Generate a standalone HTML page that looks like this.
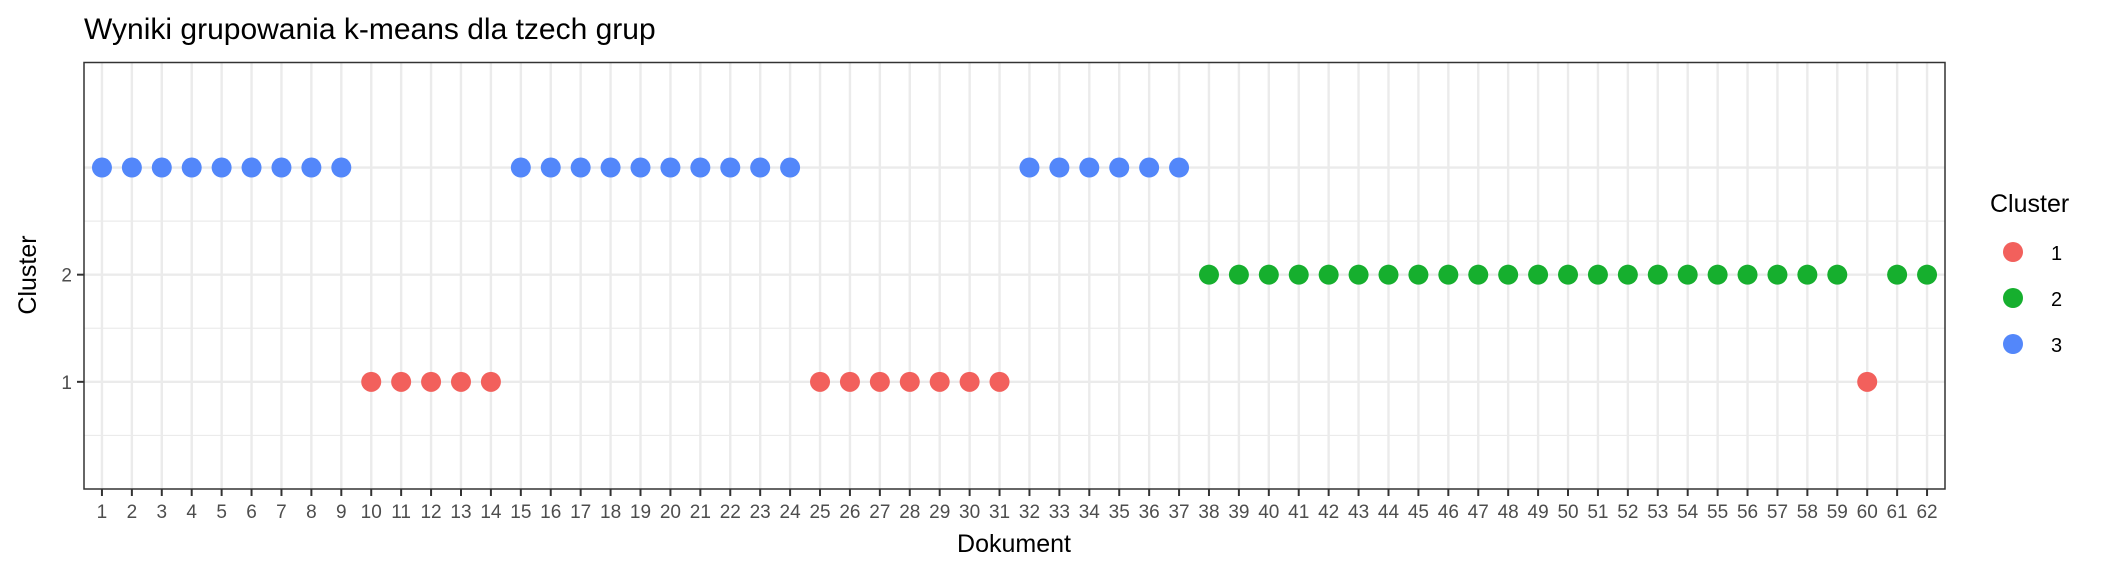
<!DOCTYPE html>
<html><head><meta charset="utf-8"><style>
html,body{margin:0;padding:0;background:#fff;}
svg{display:block;font-family:"Liberation Sans",Arial,sans-serif;}
</style></head><body>
<svg id="chart" width="2112" height="576" viewBox="0 0 2112 576">
<text x="84" y="39" font-size="30" fill="#000">Wyniki grupowania k-means dla tzech grup</text>
<g id="grid"></g>
<g id="points"></g>
<rect x="84" y="62.5" width="1861" height="426.5" fill="none" stroke="#333" stroke-width="1.5"/>
<g id="axes"></g>
<text x="1014" y="552" font-size="25" text-anchor="middle" fill="#000">Dokument</text>
<text transform="translate(36,275) rotate(-90)" font-size="25" text-anchor="middle" fill="#000">Cluster</text>
<g id="legend">
<text x="1990" y="212" font-size="25" fill="#000">Cluster</text>
</g>
</svg>
<script>
const clusters = [3,3,3,3,3,3,3,3,3,1,1,1,1,1,3,3,3,3,3,3,3,3,3,3,1,1,1,1,1,1,1,3,3,3,3,3,3,2,2,2,2,2,2,2,2,2,2,2,2,2,2,2,2,2,2,2,2,2,2,1,2,2];
const yTickLabels = ["1","2"];
const legendLabels = ["1","2","3"];
const colors = {1:"#F2605C",2:"#16AF2E",3:"#5387FA"};
const NS="http://www.w3.org/2000/svg";
const L=84,R=1945,T=62.5,B=489;
const xMin=0.4,xMax=clusters.length+0.6,yMin=0,yMax=3.98;
function xs(v){return L+(v-xMin)/(xMax-xMin)*(R-L);}
function ys(v){return B-(v-yMin)/(yMax-yMin)*(B-T);}
function mk(tag,attrs,parent){const e=document.createElementNS(NS,tag);for(const k in attrs)e.setAttribute(k,attrs[k]);parent.appendChild(e);return e;}
const grid=document.getElementById('grid'),pts=document.getElementById('points'),axes=document.getElementById('axes'),leg=document.getElementById('legend');
[0.5,1.5,2.5].forEach(v=>{const l=mk('line',{x1:L,x2:R,y1:ys(v),y2:ys(v),stroke:'#ebebeb','stroke-width':1.2},grid);

});
[1,2,3].forEach(v=>{const l=mk('line',{x1:L,x2:R,y1:ys(v),y2:ys(v),stroke:'#ebebeb','stroke-width':2.4},grid);

});
clusters.forEach((c,i)=>{const x=xs(i+1);
const g=mk('line',{x1:x,x2:x,y1:T,y2:B,stroke:'#ebebeb','stroke-width':2.4},grid);


const t=mk('line',{x1:x,x2:x,y1:B,y2:B+7,stroke:'#333','stroke-width':2},axes);


const tx=mk('text',{x:x,y:518,'font-size':19,'text-anchor':'middle',fill:'#4d4d4d'},axes);tx.textContent=String(i+1);


const p=mk('circle',{cx:x,cy:ys(c),r:10,fill:colors[c]},pts);

});
yTickLabels.forEach(s=>{const v=+s;
const t=mk('line',{x1:L-7,x2:L,y1:ys(v),y2:ys(v),stroke:'#333','stroke-width':2},axes);


const tx=mk('text',{x:L-12,y:ys(v)+7,'font-size':19,'text-anchor':'end',fill:'#4d4d4d'},axes);tx.textContent=s;

});
legendLabels.forEach((s,i)=>{const y=252+i*46;
const c=mk('circle',{cx:2013,cy:y,r:10,fill:colors[+s]},leg);


const t=mk('text',{x:2051,y:y+8,'font-size':20,fill:'#000'},leg);t.textContent=s;

});
</script>
</body></html>
